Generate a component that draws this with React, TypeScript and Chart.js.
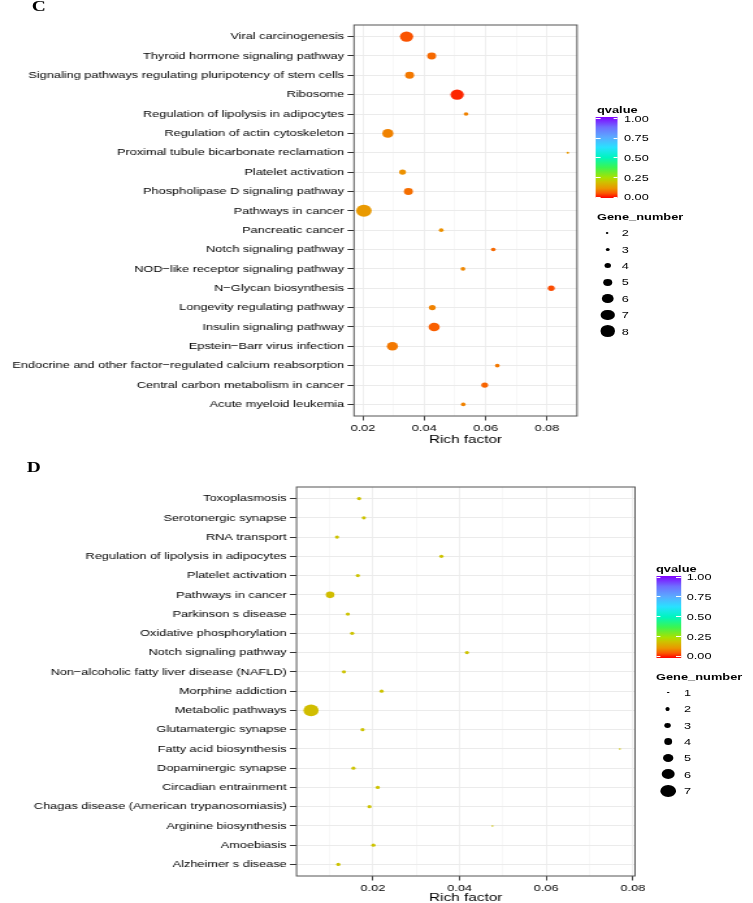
import React, { useEffect, useRef } from 'react';
import { Chart, registerables } from 'chart.js';

Chart.register(...registerables);

// ---------------- DATA: panel C ----------------
const pathwaysC = [
  'Viral carcinogenesis',
  'Thyroid hormone signaling pathway',
  'Signaling pathways regulating pluripotency of stem cells',
  'Ribosome',
  'Regulation of lipolysis in adipocytes',
  'Regulation of actin cytoskeleton',
  'Proximal tubule bicarbonate reclamation',
  'Platelet activation',
  'Phospholipase D signaling pathway',
  'Pathways in cancer',
  'Pancreatic cancer',
  'Notch signaling pathway',
  'NOD\u2212like receptor signaling pathway',
  'N\u2212Glycan biosynthesis',
  'Longevity regulating pathway',
  'Insulin signaling pathway',
  'Epstein\u2212Barr virus infection',
  'Endocrine and other factor\u2212regulated calcium reabsorption',
  'Central carbon metabolism in cancer',
  'Acute myeloid leukemia',
];
const richFactorC = [
  0.0342, 0.0424, 0.0352, 0.0507, 0.0536, 0.0281, 0.0868, 0.0329, 0.0348, 0.0203,
  0.0455, 0.0625, 0.0526, 0.0814, 0.0426, 0.0432, 0.0296, 0.0638, 0.0597, 0.0527,
];
const geneNumberC = [7, 5, 5, 7, 3, 6, 2, 4, 5, 8, 3, 3, 3, 4, 4, 6, 6, 3, 4, 3];
const qvalueC = [
  0.055, 0.075, 0.09, 0.025, 0.1, 0.1, 0.125, 0.115, 0.08, 0.125,
  0.115, 0.075, 0.105, 0.05, 0.1, 0.065, 0.09, 0.09, 0.07, 0.1,
];
const xMajorC = [0.02, 0.04, 0.06, 0.08];
const xMajorLabelsC = ['0.02', '0.04', '0.06', '0.08'];
const xMinorC = [0.03, 0.05, 0.07];
const geneLegendC = [2, 3, 4, 5, 6, 7, 8];

// ---------------- DATA: panel D ----------------
const pathwaysD = [
  'Toxoplasmosis',
  'Serotonergic synapse',
  'RNA transport',
  'Regulation of lipolysis in adipocytes',
  'Platelet activation',
  'Pathways in cancer',
  'Parkinson s disease',
  'Oxidative phosphorylation',
  'Notch signaling pathway',
  'Non\u2212alcoholic fatty liver disease (NAFLD)',
  'Morphine addiction',
  'Metabolic pathways',
  'Glutamatergic synapse',
  'Fatty acid biosynthesis',
  'Dopaminergic synapse',
  'Circadian entrainment',
  'Chagas disease (American trypanosomiasis)',
  'Arginine biosynthesis',
  'Amoebiasis',
  'Alzheimer s disease',
];
const richFactorD = [
  0.0168, 0.0179, 0.0117, 0.0358, 0.0165, 0.0101, 0.0142, 0.0152, 0.0417, 0.0133,
  0.022, 0.0057, 0.0176, 0.077, 0.0155, 0.0211, 0.0192, 0.0476, 0.0201, 0.012,
];
const geneNumberD = [2, 2, 2, 2, 2, 4, 2, 2, 2, 2, 2, 7, 2, 1, 2, 2, 2, 1, 2, 2];
const qvalueD = [
  0.2, 0.2, 0.2, 0.2, 0.2, 0.19, 0.2, 0.2, 0.2, 0.2,
  0.2, 0.19, 0.2, 0.2, 0.2, 0.2, 0.2, 0.2, 0.2, 0.2,
];
const xMajorD = [0.02, 0.04, 0.06, 0.08];
const xMajorLabelsD = ['0.02', '0.04', '0.06', '0.08'];
const xMinorD = [0.01, 0.03, 0.05, 0.07];
const geneLegendD = [1, 2, 3, 4, 5, 6, 7];

const qLegendValues = [1.0, 0.75, 0.5, 0.25, 0.0];
const qLegendLabels = ['1.00', '0.75', '0.50', '0.25', '0.00'];

// ---------------- STYLE ----------------
const S = 1.3; // horizontal stretch of the reference
const W = 580;
const FONT = '"Liberation Sans", Arial, Helvetica, sans-serif';
const AXIS_TXT = 9.8;

const GRAD: [number, number[]][] = [
  [0.0, [255, 0, 0]],
  [0.06, [250, 90, 0]],
  [0.12, [235, 150, 0]],
  [0.2, [205, 195, 0]],
  [0.25, [170, 225, 0]],
  [0.375, [60, 245, 80]],
  [0.5, [0, 245, 190]],
  [0.625, [40, 225, 255]],
  [0.75, [90, 170, 255]],
  [0.875, [110, 110, 255]],
  [1.0, [128, 0, 255]],
];

function qColor(q: number): string {
  for (let i = 0; i < GRAD.length - 1; i++) {
    const [a, ca] = GRAD[i];
    const [b, cb] = GRAD[i + 1];
    if (q >= a && q <= b) {
      const t = (q - a) / (b - a);
      const c = ca.map((v, k) => Math.round(v + (cb[k] - v) * t));
      return `rgb(${c[0]},${c[1]},${c[2]})`;
    }
  }
  const c = GRAD[GRAD.length - 1][1];
  return `rgb(${c[0]},${c[1]},${c[2]})`;
}

const sizeC = (g: number) => 2 + (g - 2) * 1.65;
const sizeD = (g: number) => 1.5 + (g - 1) * 1.7;

type PanelCfg = {
  labels: string[];
  rich: number[];
  genes: number[];
  q: number[];
  xMajor: number[];
  xMajorLabels: string[];
  xMinor: number[];
  xMin: number;
  xMax: number;
  top: number;
  height: number;
  padTop: number;
  plotLeft: number;
  plotRight: number;
  plotBottom: number;
  titlePadBottom: number;
  size: (g: number) => number;
};

function ScatterPanel({ cfg }: { cfg: PanelCfg }) {
  const ref = useRef<HTMLCanvasElement | null>(null);
  useEffect(() => {
    const canvas = ref.current;
    if (!canvas) return;
    const majorIndex = (v: number) => cfg.xMajor.findIndex((m) => Math.abs(m - v) < 1e-9);
    const frame = {
      id: 'frame',
      afterDraw(chart: any) {
        const { ctx, chartArea: a } = chart;
        ctx.save();
        ctx.strokeStyle = '#555555';
        ctx.lineWidth = 1;
        ctx.strokeRect(a.left, a.top, a.right - a.left, a.bottom - a.top);
        ctx.restore();
      },
    };
    const radii = cfg.genes.map((g) => cfg.size(g) / 2);
    const chart = new Chart(canvas, {
      type: 'scatter',
      data: {
        datasets: [
          {
            data: cfg.labels.map((_, i) => ({ x: cfg.rich[i], y: i })),
            pointRadius: radii,
            pointHoverRadius: radii,
            pointBackgroundColor: cfg.q.map(qColor),
            pointBorderWidth: 0,
            pointBorderColor: 'rgba(0,0,0,0)',
          } as any,
        ],
      },
      options: {
        responsive: false,
        animation: false,
        events: [],
        layout: { padding: { left: 0, top: cfg.padTop, right: W - cfg.plotRight, bottom: 0 } },
        plugins: { legend: { display: false }, tooltip: { enabled: false } },
        scales: {
          x: {
            type: 'linear',
            position: 'bottom',
            min: cfg.xMin,
            max: cfg.xMax,
            afterBuildTicks: (s: any) => {
              s.ticks = [...cfg.xMinor, ...cfg.xMajor].sort((a, b) => a - b).map((v) => ({ value: v }));
            },
            afterFit: (s: any) => {
              s.height = cfg.height - cfg.plotBottom;
            },
            ticks: {
              autoSkip: false,
              maxRotation: 0,
              padding: 2.2,
              color: '#000000',
              font: { family: FONT, size: AXIS_TXT },
              callback: (v: any) => {
                const i = majorIndex(Number(v));
                return i >= 0 ? cfg.xMajorLabels[i] : '';
              },
            },
            grid: {
              color: (c: any) => (majorIndex(c.tick ? c.tick.value : 0) >= 0 ? '#EBEBEB' : '#F4F4F4'),
              lineWidth: (c: any) => (majorIndex(c.tick ? c.tick.value : 0) >= 0 ? 0.8 : 0.6),
              tickColor: (c: any) => (majorIndex(c.tick ? c.tick.value : 0) >= 0 ? '#333333' : 'rgba(0,0,0,0)'),
              tickLength: 4.5,
              tickWidth: 0.9,
            },
            border: { display: false },
            title: {
              display: true,
              text: 'Rich factor',
              color: '#000000',
              font: { family: FONT, size: 11.8 },
              padding: { top: 0, bottom: cfg.titlePadBottom },
            },
          } as any,
          y: {
            type: 'linear',
            reverse: true,
            min: -0.6,
            max: cfg.labels.length - 1 + 0.6,
            afterBuildTicks: (s: any) => {
              s.ticks = cfg.labels.map((_, i) => ({ value: i }));
            },
            afterFit: (s: any) => {
              s.width = cfg.plotLeft;
            },
            ticks: {
              autoSkip: false,
              padding: 2.6,
              color: '#000000',
              font: { family: FONT, size: AXIS_TXT },
              callback: (v: any) => cfg.labels[Math.round(Number(v))],
            },
            grid: {
              color: '#EBEBEB',
              lineWidth: 1,
              tickColor: '#333333',
              tickLength: 5,
              tickWidth: 1,
            },
            border: { display: false },
          } as any,
        },
      },
      plugins: [frame],
    });
    return () => chart.destroy();
  }, [cfg]);
  return (
    <canvas
      ref={ref}
      width={W}
      height={cfg.height}
      style={{ position: 'absolute', left: 0, top: cfg.top, width: W, height: cfg.height }}
    />
  );
}

type LegendCfg = {
  left: number;
  qTitleY: number;
  barLeft: number;
  barTop: number;
  barW: number;
  barH: number;
  qLabelTop: number;
  qLabelSpan: number;
  labelX: number;
  geneTitleY: number;
  dotX: number;
  dotY0: number;
  dotStep: number;
  dotLabelX: number;
  genes: number[];
  size: (g: number) => number;
};

const TXT = 9.8;
const TTL = 9.9;

function Legend({ c }: { c: LegendCfg }) {
  const gradient =
    'linear-gradient(to top, ' +
    GRAD.map(([p, col]) => `rgb(${col[0]},${col[1]},${col[2]}) ${(p * 100).toFixed(1)}%`).join(', ') +
    ')';
  const txt = (size: number, bold = false): React.CSSProperties => ({
    position: 'absolute',
    fontFamily: FONT,
    fontSize: size,
    lineHeight: `${size}px`,
    fontWeight: bold ? 'bold' : 'normal',
    color: '#000',
    whiteSpace: 'nowrap',
  });
  return (
    <>
      <div style={{ ...txt(TTL, true), left: c.left, top: c.qTitleY - 0.49 * TTL }}>qvalue</div>
      <div
        style={{
          position: 'absolute',
          left: c.barLeft,
          top: c.barTop,
          width: c.barW,
          height: c.barH,
          background: gradient,
        }}
      />
      {qLegendValues.map((v, i) => {
        const y = c.qLabelTop + (1 - v) * c.qLabelSpan;
        return (
          <React.Fragment key={'q' + i}>
            <div style={{ position: 'absolute', left: c.barLeft, top: y - 0.5, width: c.barW / 5, height: 1, background: '#fff' }} />
            <div
              style={{ position: 'absolute', left: c.barLeft + c.barW - c.barW / 5, top: y - 0.5, width: c.barW / 5, height: 1, background: '#fff' }}
            />
            <div style={{ ...txt(TXT), left: c.labelX, top: y - 0.49 * TXT }}>{qLegendLabels[i]}</div>
          </React.Fragment>
        );
      })}
      <div style={{ ...txt(TTL, true), left: c.left, top: c.geneTitleY - 0.49 * TTL }}>Gene_number</div>
      {c.genes.map((g, i) => {
        const d = c.size(g);
        const y = c.dotY0 + i * c.dotStep;
        return (
          <React.Fragment key={'g' + i}>
            <div
              style={{
                position: 'absolute',
                left: c.dotX - d / 2,
                top: y - d / 2,
                width: d,
                height: d,
                borderRadius: '50%',
                background: '#000',
              }}
            />
            <div style={{ ...txt(TXT), left: c.dotLabelX, top: y - 0.49 * TXT }}>{String(g)}</div>
          </React.Fragment>
        );
      })}
    </>
  );
}

const cfgC: PanelCfg = {
  labels: pathwaysC,
  rich: richFactorC,
  genes: geneNumberC,
  q: qvalueC,
  xMajor: xMajorC,
  xMajorLabels: xMajorLabelsC,
  xMinor: xMinorC,
  xMin: 0.01707,
  xMax: 0.0898,
  top: 0,
  height: 448,
  padTop: 25,
  plotLeft: 354 / S,
  plotRight: 577 / S,
  plotBottom: 416,
  titlePadBottom: 1.6,
  size: sizeC,
};

const cfgD: PanelCfg = {
  labels: pathwaysD,
  rich: richFactorD,
  genes: geneNumberD,
  q: qvalueD,
  xMajor: xMajorD,
  xMajorLabels: xMajorLabelsD,
  xMinor: xMinorD,
  xMin: 0.00235,
  xMax: 0.0805,
  top: 450,
  height: 456,
  padTop: 37,
  plotLeft: 296.5 / S,
  plotRight: 635 / S,
  plotBottom: 426,
  titlePadBottom: 0.8,
  size: sizeD,
};

const legC: LegendCfg = {
  left: 597 / S,
  qTitleY: 110,
  barLeft: 596 / S,
  barTop: 117,
  barW: 22 / S,
  barH: 81,
  qLabelTop: 118.5,
  qLabelSpan: 78.5,
  labelX: 624 / S,
  geneTitleY: 216.8,
  dotX: 607.7 / S,
  dotY0: 233,
  dotStep: 16.4,
  dotLabelX: 621.7 / S,
  genes: geneLegendC,
  size: sizeC,
};

const legD: LegendCfg = {
  left: 656 / S,
  qTitleY: 568.8,
  barLeft: 656 / S,
  barTop: 575.8,
  barW: 25 / S,
  barH: 82.5,
  qLabelTop: 577.3,
  qLabelSpan: 78.7,
  labelX: 686.7 / S,
  geneTitleY: 676.7,
  dotX: 668 / S,
  dotY0: 692.7,
  dotStep: 16.33,
  dotLabelX: 684 / S,
  genes: geneLegendD,
  size: sizeD,
};

function PanelLetter({ text, x, baseline }: { text: string; x: number; baseline: number }) {
  const fs = 15;
  return (
    <div
      style={{
        position: 'absolute',
        left: x,
        top: baseline - 12.6,
        fontFamily: '"Liberation Serif", "Times New Roman", serif',
        fontWeight: 'bold',
        fontSize: fs,
        lineHeight: `${fs}px`,
        color: '#000',
      }}
    >
      {text}
    </div>
  );
}

export default function App() {
  return (
    <div
      style={{
        position: 'absolute',
        left: 0,
        top: 0,
        width: 753,
        height: 903,
        overflow: 'hidden',
        background: '#ffffff',
      }}
    >
      <div
        style={{
          position: 'absolute',
          left: 0,
          top: 0,
          width: W,
          height: 903,
          transform: `scaleX(${S})`,
          transformOrigin: '0 0',
        }}
      >
        <PanelLetter text="C" x={31.7 / S} baseline={11.5} />
        <ScatterPanel cfg={cfgC} />
        <Legend c={legC} />
        <PanelLetter text="D" x={26.7 / S} baseline={473} />
        <ScatterPanel cfg={cfgD} />
        <Legend c={legD} />
      </div>
    </div>
  );
}
